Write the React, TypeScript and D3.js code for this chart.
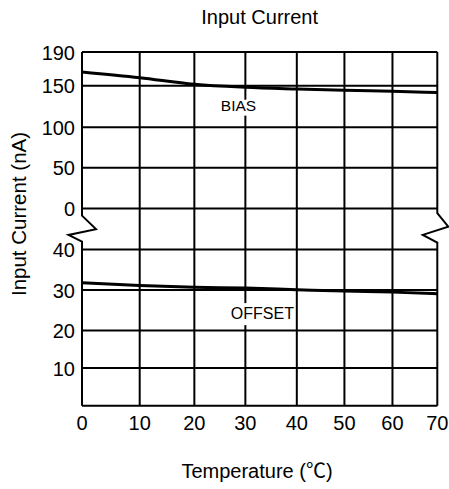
import React from "react";
import * as d3 from "d3";

// ---- data ----
const TEMPS = [0, 10, 20, 30, 40, 50, 60, 70];
const BIAS = [166.3, 159.5, 151.7, 148.1, 146.0, 144.4, 143.2, 141.8];
const OFFSET = [31.8, 31.15, 30.7, 30.5, 30.1, 29.75, 29.5, 29.1];
const TOP_TICKS = [0, 50, 100, 150, 190];
const BOTTOM_TICKS = [10, 20, 30, 40];
const BOTTOM_DOMAIN = [0, 10, 20, 30, 40];
const TITLE = "Input Current";
const X_LABEL_MAIN = "Temperature (";
const X_LABEL_UNIT = "℃";
const X_LABEL_END = ")";
const Y_LABEL = "Input Current (nA)";

// ---- layout ----
const W = 449;
const H = 489;
const LEFT = 82;
const RIGHT = 437.3;
const TOP = 52;
const BOTTOM = 405.7;
// non-uniform grid positions as fractions of plot width / height (layout of the original grid)
const X_FRAC = [0, 0.1624, 0.3162, 0.4598, 0.6046, 0.7386, 0.8738, 1];
const TOP_FRAC = [0.4428, 0.3273, 0.2126, 0.0952, 0]; // for TOP_TICKS
const BOTTOM_FRAC = [1, 0.8936, 0.7871, 0.6732, 0.5581]; // for BOTTOM_DOMAIN
const FONT = "'Liberation Sans', Arial, Helvetica, sans-serif";
const CJK = "'Noto Sans CJK SC', 'Noto Sans CJK JP', sans-serif";

export default function App() {
  const ph = BOTTOM - TOP;
  const pw = RIGHT - LEFT;
  const x = d3.scaleLinear().domain(TEMPS).range(X_FRAC.map((f) => LEFT + f * pw));
  const yTop = d3.scaleLinear().domain(TOP_TICKS).range(TOP_FRAC.map((f) => TOP + f * ph));
  const yBot = d3.scaleLinear().domain(BOTTOM_DOMAIN).range(BOTTOM_FRAC.map((f) => TOP + f * ph));

  const lineTop = d3
    .line<number>()
    .x((_, i) => x(TEMPS[i]))
    .y((d) => yTop(d))
    .curve(d3.curveMonotoneX);
  const lineBot = d3
    .line<number>()
    .x((_, i) => x(TEMPS[i]))
    .y((d) => yBot(d))
    .curve(d3.curveMonotoneX);

  const y0 = yTop(0);
  const leftBorder = [
    [LEFT, TOP],
    [LEFT, y0 + 7],
    [LEFT + 14, y0 + 20.5],
    [LEFT - 13.5, y0 + 26.3],
    [LEFT, y0 + 33],
    [LEFT, BOTTOM],
  ] as [number, number][];
  const rightBorder = [
    [RIGHT, TOP],
    [RIGHT, y0 + 4.6],
    [RIGHT + 11, y0 + 18],
    [RIGHT - 14.5, y0 + 26.3],
    [RIGHT, y0 + 34],
    [RIGHT, BOTTOM],
  ] as [number, number][];
  const poly = d3.line();

  React.useEffect(() => {
    document.body.style.margin = "0";
  }, []);

  return (
    <svg
      width={W}
      height={H}
      viewBox={`0 0 ${W} ${H}`}
      style={{ position: "absolute", left: 0, top: 0, background: "#fff" }}
      fontFamily={FONT}
    >
      <rect x={0} y={0} width={W} height={H} fill="#fff" />
      <text x={(LEFT + RIGHT) / 2} y={24} textAnchor="middle" fontSize={20} fill="#000">
        {TITLE}
      </text>

      {/* vertical gridlines */}
      {TEMPS.slice(1, -1).map((t) => (
        <line key={"v" + t} x1={x(t)} x2={x(t)} y1={TOP} y2={BOTTOM} stroke="#000" strokeWidth={2} />
      ))}
      {/* horizontal gridlines top */}
      {TOP_TICKS.map((v) => (
        <line key={"ht" + v} x1={LEFT} x2={RIGHT} y1={yTop(v)} y2={yTop(v)} stroke="#000" strokeWidth={2} />
      ))}
      {BOTTOM_DOMAIN.map((v) => (
        <line key={"hb" + v} x1={LEFT} x2={RIGHT} y1={yBot(v)} y2={yBot(v)} stroke="#000" strokeWidth={2} />
      ))}
      {/* borders with break marks */}
      <path d={poly(leftBorder) || ""} fill="none" stroke="#000" strokeWidth={2} strokeLinejoin="miter" />
      <path d={poly(rightBorder) || ""} fill="none" stroke="#000" strokeWidth={2} strokeLinejoin="miter" />

      {/* curves */}
      <path d={lineTop(BIAS) || ""} fill="none" stroke="#000" strokeWidth={3} />
      <path d={lineBot(OFFSET) || ""} fill="none" stroke="#000" strokeWidth={3} />

      {/* curve labels */}
      <rect x={x(20) + 25} y={yTop(150) + 14} width={38} height={16} fill="#fff" />
      <text x={x(20) + 26.5} y={yTop(150) + 25.5} fontSize={15.5} fill="#000">
        BIAS
      </text>
      <rect x={x(20) + 34} y={yBot(30) + 13} width={66} height={22} fill="#fff" />
      <text x={x(20) + 36.5} y={yBot(30) + 29} fontSize={16} fill="#000">
        OFFSET
      </text>

      {/* y tick labels */}
      {TOP_TICKS.map((v) => (
        <text key={"lt" + v} x={LEFT - 7} y={yTop(v) + 7.5} textAnchor="end" fontSize={20} fill="#000">
          {v}
        </text>
      ))}
      {BOTTOM_TICKS.map((v) => (
        <text key={"lb" + v} x={LEFT - 7} y={yBot(v) + 7.5} textAnchor="end" fontSize={20} fill="#000">
          {v}
        </text>
      ))}
      {/* x tick labels */}
      {TEMPS.map((t) => (
        <text key={"xl" + t} x={x(t)} y={BOTTOM + 24.5} textAnchor="middle" fontSize={20} fill="#000">
          {t}
        </text>
      ))}

      <text x={257} y={478} textAnchor="middle" fontSize={20} fill="#000">
        {X_LABEL_MAIN}
        <tspan fontFamily={CJK}>{X_LABEL_UNIT}</tspan>
        {X_LABEL_END}
      </text>
      <text
        transform={`translate(26,${214}) rotate(-90)`}
        textAnchor="middle"
        fontSize={20.5}
        fill="#000"
      >
        {Y_LABEL}
      </text>
    </svg>
  );
}
